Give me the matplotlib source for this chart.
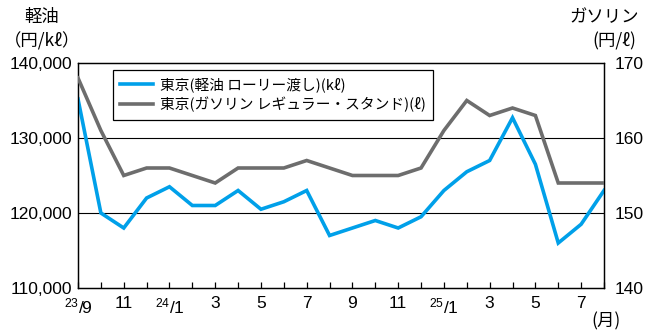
import matplotlib
matplotlib.use("Agg")
import matplotlib.pyplot as plt

plt.rcParams['font.family'] = ['Liberation Sans', 'Noto Sans CJK JP', 'DejaVu Sans']
plt.rcParams['mathtext.fontset'] = 'custom'
plt.rcParams['mathtext.rm'] = 'Liberation Sans'
plt.rcParams['mathtext.it'] = 'Liberation Sans'
plt.rcParams['mathtext.bf'] = 'Liberation Sans'

months = ['23/9', '10', '11', '12', '24/1', '2', '3', '4', '5', '6', '7', '8',
          '9', '10', '11', '12', '25/1', '2', '3', '4', '5', '6', '7', '8']
diesel = [135200, 120000, 118000, 122000, 123500, 121000, 121000, 123000,
          120500, 121500, 123000, 117000, 118000, 119000, 118000, 119500,
          123000, 125500, 127000, 132700, 126500, 116000, 118500, 123000]
gasoline = [168, 161, 155, 156, 156, 155, 154, 156, 156, 156, 157, 156,
            155, 155, 155, 156, 161, 165, 163, 164, 163, 154, 154, 154]
left_ticks = [110000, 120000, 130000, 140000]
right_ticks = [140, 150, 160, 170]
label_diesel = '東京(軽油 ローリー渡し)(kℓ)'
label_gas = '東京(ガソリン レギュラー・スタンド)(ℓ)'

JP = ['Noto Sans CJK JP', 'DejaVu Sans']
BLUE = '#00a0e9'
GRAY = '#6d6d6d'

fig = plt.figure(figsize=(6.52, 3.33), dpi=100)
ax = fig.add_axes([78/652, 45/333, 526/652, 225/333])
ax2 = ax.twinx()

x = list(range(len(months)))
l1, = ax.plot(x, diesel, color=BLUE, lw=2.6, solid_joinstyle='miter', zorder=3)
l2, = ax2.plot(x, gasoline, color=GRAY, lw=2.6, solid_joinstyle='miter', zorder=3)

ax.set_xlim(0, len(months) - 1)
ax.set_ylim(110000, 140000)
ax2.set_ylim(140, 170)

ax.set_yticks(left_ticks)
ax.set_yticklabels([f'{v:,}' for v in left_ticks], fontsize=12.5)
ax2.set_yticks(right_ticks)
ax2.set_yticklabels([str(v) for v in right_ticks], fontsize=12.5)
ax.tick_params(axis='y', length=0, pad=4)
ax2.tick_params(axis='y', length=0, pad=8)

for v in [120000, 130000]:
    ax.axhline(v, color='black', lw=0.8, zorder=1)

ax.set_xticks(x)
labs = []
for i, m in enumerate(months):
    if i % 2 == 0:
        if '/' in m:
            yy, mm = m.split('/')
            labs.append(r'$^{' + yy + r'}$/' + mm)
        else:
            labs.append(m)
    else:
        labs.append('')
ax.set_xticklabels(labs, fontsize=12.5)
ax.tick_params(axis='x', direction='in', length=4, width=0.9, pad=6)

for a in (ax, ax2):
    for s in a.spines.values():
        s.set_color('black')
        s.set_linewidth(0.9)

leg = ax.legend([l1, l2], [label_diesel, label_gas], loc='upper left',
                bbox_to_anchor=(0.0665, 0.969), borderaxespad=0,
                prop={'family': JP, 'size': 10.6}, frameon=True, fancybox=False,
                edgecolor='black', framealpha=1, handlelength=2.2,
                handletextpad=0.5, labelspacing=0.3, borderpad=0.5)
leg.get_frame().set_linewidth(0.9)
leg.set_zorder(5)

fig.text(42/652, 1 - 17/333, '軽油', ha='center', va='center', fontsize=12.5, family=JP)
fig.text(42/652, 1 - 41/333, '（円/kℓ）', ha='center', va='center', fontsize=12.5, family=JP)
fig.text(604/652, 1 - 17/333, 'ガソリン', ha='center', va='center', fontsize=12.5, family=JP)
fig.text(614/652, 1 - 41/333, '(円/ℓ)', ha='center', va='center', fontsize=12.5, family=JP)
fig.text(606/652, 1 - 321/333, '(月)', ha='center', va='center', fontsize=12.5, family=JP)

fig.savefig('out.png', dpi=100)
